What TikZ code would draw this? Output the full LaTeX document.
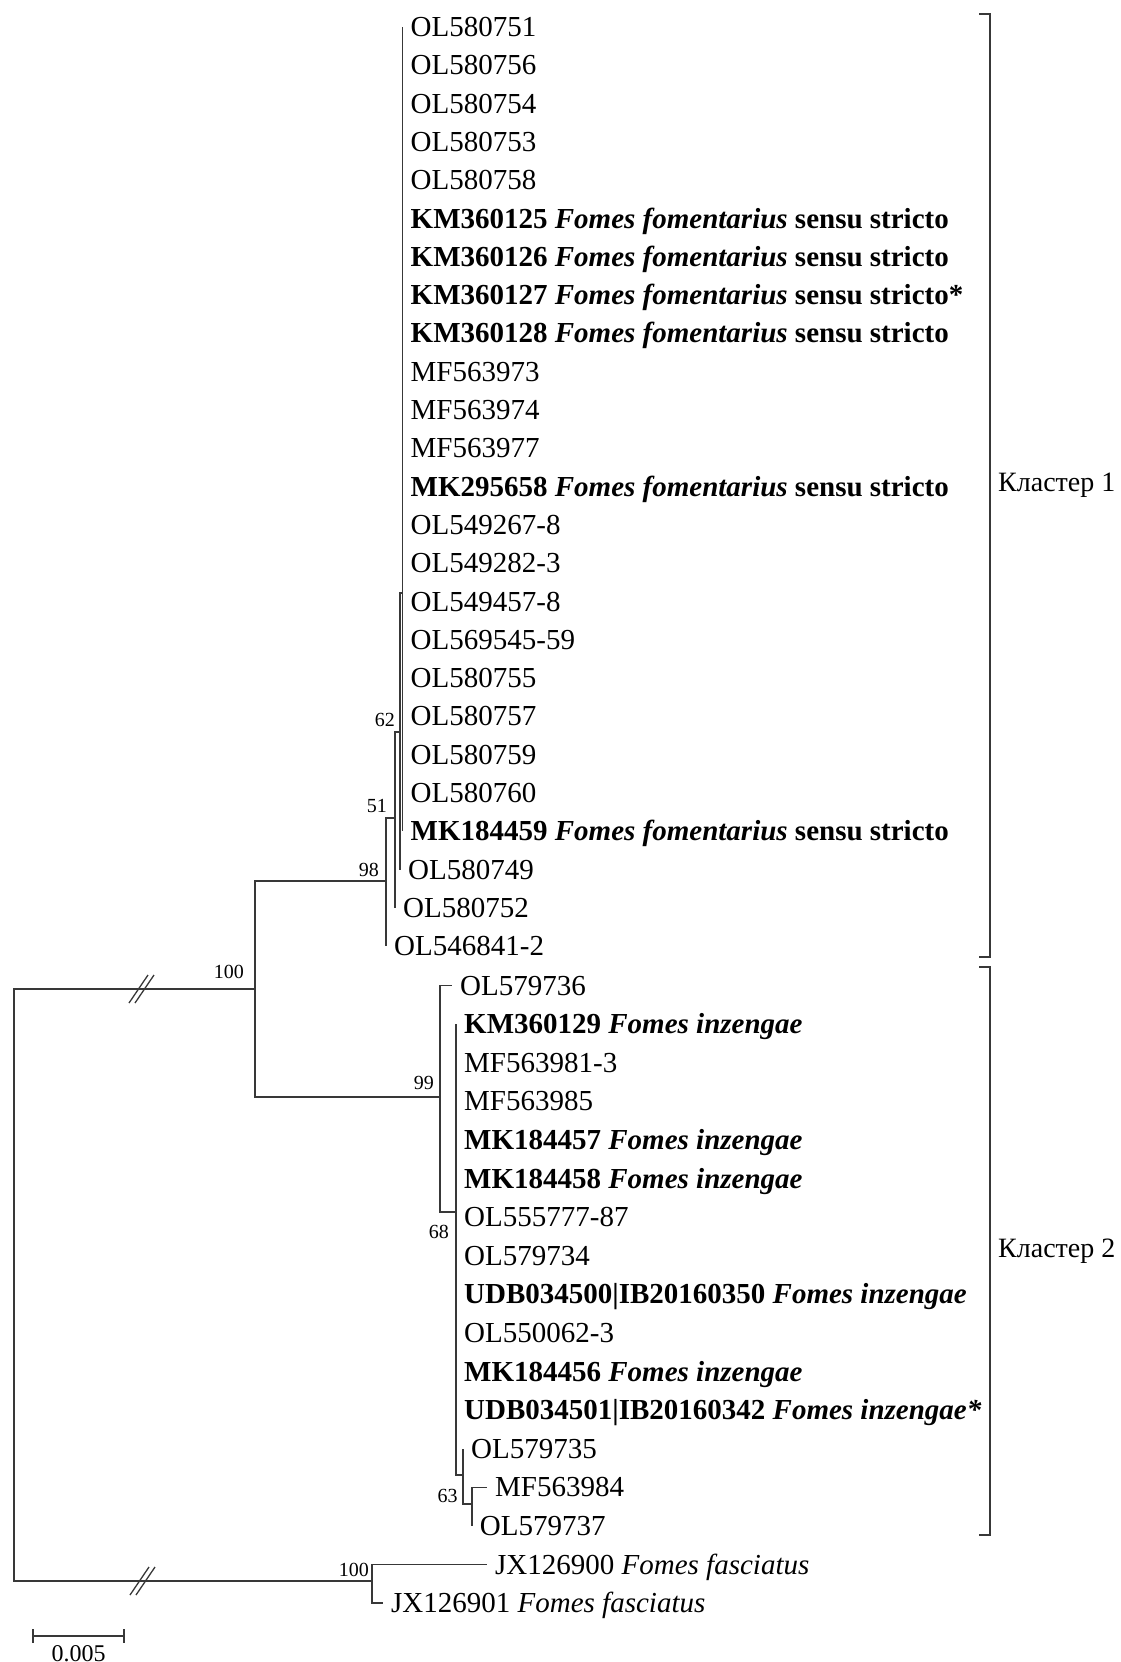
\documentclass[tikz,border=0pt]{standalone}
\usepackage{fontspec}
\setmainfont{Liberation Serif}
\tikzset{
  branch/.style={draw=black!78, line width=1.6pt},
  leaf/.style={anchor=west, inner xsep=8pt, inner ysep=0pt, text height=19pt, text depth=0pt, font=\fontsize{29}{34}\selectfont},
  boot/.style={anchor=south east, inner sep=0pt, font=\fontsize{20}{24}\selectfont},
  clab/.style={anchor=west, inner sep=0pt, font=\fontsize{28}{34}\selectfont},
}
\begin{document}
\begin{tikzpicture}[x=1pt,y=-1pt]
      \useasboundingbox (0,0) rectangle (1120,1662);
      % inner nodes of the tree
      \coordinate (root) at (14,1285);
      \coordinate (n100) at (255,989);
      \coordinate (n98) at (386,881);
      \coordinate (n51) at (395,818);
      \coordinate (n62) at (400,732);
      \coordinate (nff) at (402.5,593);
      \coordinate (n99) at (440,1097);
      \coordinate (n68) at (456,1212);
      \coordinate (nol) at (463,1475);
      \coordinate (n63) at (471.7,1504);
      \coordinate (nfa) at (372,1581);
      % cluster 1
      \node[leaf] (l1) at (402.5,27) {OL580751};
      \node[leaf] (l2) at (402.5,65.3) {OL580756};
      \node[leaf] (l3) at (402.5,103.6) {OL580754};
      \node[leaf] (l4) at (402.5,141.9) {OL580753};
      \node[leaf] (l5) at (402.5,180.2) {OL580758};
      \node[leaf] (l6) at (402.5,218.5) {\textbf{KM360125 \textit{Fomes fomentarius} sensu stricto}};
      \node[leaf] (l7) at (402.5,256.8) {\textbf{KM360126 \textit{Fomes fomentarius} sensu stricto}};
      \node[leaf] (l8) at (402.5,295.1) {\textbf{KM360127 \textit{Fomes fomentarius} sensu stricto*}};
      \node[leaf] (l9) at (402.5,333.4) {\textbf{KM360128 \textit{Fomes fomentarius} sensu stricto}};
      \node[leaf] (l10) at (402.5,371.7) {MF563973};
      \node[leaf] (l11) at (402.5,410) {MF563974};
      \node[leaf] (l12) at (402.5,448.3) {MF563977};
      \node[leaf] (l13) at (402.5,486.6) {\textbf{MK295658 \textit{Fomes fomentarius} sensu stricto}};
      \node[leaf] (l14) at (402.5,524.9) {OL549267-8};
      \node[leaf] (l15) at (402.5,563.2) {OL549282-3};
      \node[leaf] (l16) at (402.5,601.5) {OL549457-8};
      \node[leaf] (l17) at (402.5,639.8) {OL569545-59};
      \node[leaf] (l18) at (402.5,678.1) {OL580755};
      \node[leaf] (l19) at (402.5,716.4) {OL580757};
      \node[leaf] (l20) at (402.5,754.7) {OL580759};
      \node[leaf] (l21) at (402.5,793) {OL580760};
      \node[leaf] (l22) at (402.5,831.3) {\textbf{MK184459 \textit{Fomes fomentarius} sensu stricto}};
      \node[leaf] (l23) at (400,869.6) {OL580749};
      \node[leaf] (l24) at (395,907.9) {OL580752};
      \node[leaf] (l25) at (386,946.2) {OL546841-2};
      % cluster 2
      \node[leaf] (l26) at (452,985.5) {OL579736};
      \node[leaf] (l27) at (456,1024.1) {\textbf{KM360129 \textit{Fomes inzengae}}};
      \node[leaf] (l28) at (456,1062.7) {MF563981-3};
      \node[leaf] (l29) at (456,1101.3) {MF563985};
      \node[leaf] (l30) at (456,1139.9) {\textbf{MK184457 \textit{Fomes inzengae}}};
      \node[leaf] (l31) at (456,1178.5) {\textbf{MK184458 \textit{Fomes inzengae}}};
      \node[leaf] (l32) at (456,1217.1) {OL555777-87};
      \node[leaf] (l33) at (456,1255.7) {OL579734};
      \node[leaf] (l34) at (456,1294.3) {\textbf{UDB034500|IB20160350 \textit{Fomes inzengae}}};
      \node[leaf] (l35) at (456,1332.9) {OL550062-3};
      \node[leaf] (l36) at (456,1371.5) {\textbf{MK184456 \textit{Fomes inzengae}}};
      \node[leaf] (l37) at (456,1410.1) {\textbf{UDB034501|IB20160342 \textit{Fomes inzengae*}}};
      \node[leaf] (l38) at (463,1448.7) {OL579735};
      \node[leaf] (l39) at (487,1487.3) {MF563984};
      \node[leaf] (l40) at (471.7,1525.9) {OL579737};
      % outgroup
      \node[leaf] (l41) at (487,1564.5) {JX126900 \textit{Fomes fasciatus}};
      \node[leaf] (l42) at (383,1603.1) {JX126901 \textit{Fomes fasciatus}};
      % branches
      \draw[branch] (root) |- (n100) (root) |- (nfa);
      \draw[branch] (n100) |- (n98) (n100) |- (n99);
      \draw[branch] (n98) |- (n51) (n98) |- (l25);
      \draw[branch] (n51) |- (n62) (n51) |- (l24);
      \draw[branch] (n62) |- (nff) (n62) |- (l23);
      \draw[branch] (nff) |- (l1) (nff) |- (l22);
      \draw[branch] (n99) |- (l26) (n99) |- (n68);
      \draw[branch] (n68) |- (l27) (n68) |- (nol);
      \draw[branch] (nol) |- (l38) (nol) |- (n63);
      \draw[branch] (n63) |- (l39) (n63) |- (l40);
      \draw[branch] (nfa) |- (l41) (nfa) |- (l42);
      % breaks on the long branches
      \coordinate (cut1) at (142,989);
      \coordinate (cut2) at (143,1581);
      \draw[branch, line width=1.3pt] (cut1) ++(-13,14) -- ++(19,-28) (cut1) ++(-7,14) -- ++(19,-28);
      \draw[branch, line width=1.3pt] (cut2) ++(-13,14) -- ++(19,-28) (cut2) ++(-7,14) -- ++(19,-28);
      % bootstrap values
      \node[boot, xshift=-11pt, yshift=10pt] (b100) at (n100) {100};
      \node[boot, xshift=-7pt, yshift=4pt] (b98) at (n98) {98};
      \node[boot, xshift=-8pt, yshift=5pt] (b51) at (n51) {51};
      \node[boot, xshift=-5pt, yshift=5pt] (b62) at (n62) {62};
      \node[boot, xshift=-6pt, yshift=7pt] (b99) at (n99) {99};
      \node[boot, anchor=north east, xshift=-7pt, yshift=-13pt] (b68) at (n68) {68};
      \node[boot, anchor=east, xshift=-14pt, yshift=8pt] (b63) at (n63) {63};
      \node[boot, xshift=-3pt, yshift=4pt] (bfa) at (nfa) {100};
      % clusters
      \coordinate (k1top) at (990,14);
      \coordinate (k1bot) at (990,957);
      \coordinate (k2top) at (990,967);
      \coordinate (k2bot) at (990,1535);
      \draw[branch] ([xshift=-11pt]k1top) -- (k1top) -- (k1bot) -- ([xshift=-11pt]k1bot);
      \draw[branch] ([xshift=-11pt]k2top) -- (k2top) -- (k2bot) -- ([xshift=-11pt]k2bot);
      \node[clab] (c1) at (998,485) {Кластер 1};
      \node[clab] (c2) at (998,1251) {Кластер 2};
      % scale bar
      \coordinate (s0) at (33,1636);
      \coordinate (s1) at (124,1636);
      \draw[branch] (s0) -- (s1);
      \draw[branch] ([yshift=7pt]s0) -- ([yshift=-7pt]s0);
      \draw[branch] ([yshift=7pt]s1) -- ([yshift=-7pt]s1);
      \node[anchor=north, inner sep=0pt, font=\fontsize{24}{28}\selectfont] (sl) at (78.5,1645) {0.005};
\end{tikzpicture}
\end{document}
